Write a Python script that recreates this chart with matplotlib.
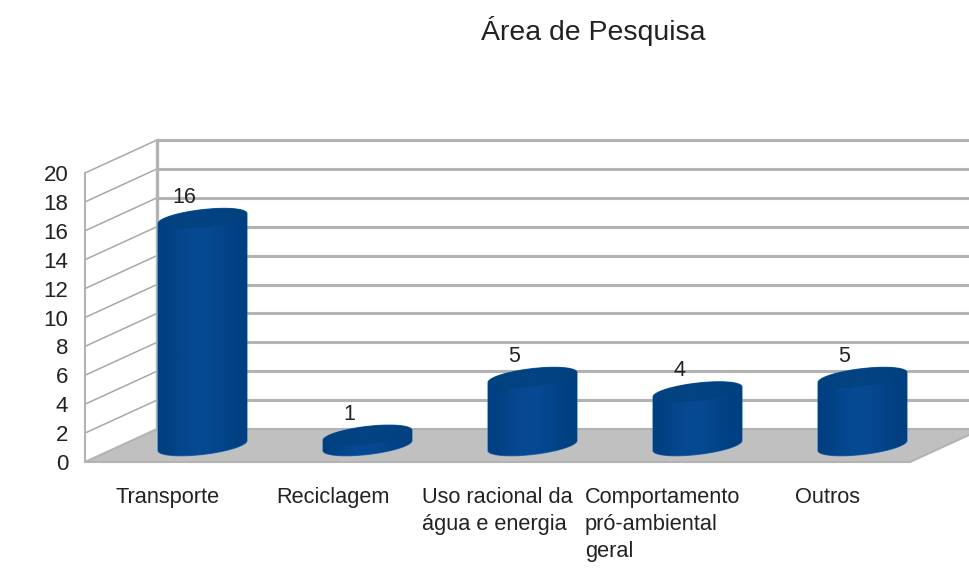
import numpy as np
import matplotlib
matplotlib.use("Agg")
import matplotlib.pyplot as plt
from matplotlib.patches import Polygon

categorias = ["Transporte", "Reciclagem", "Uso racional da\nágua e energia",
              "Comportamento\npró-ambiental\ngeral", "Outros"]
valores = [16, 1, 5, 4, 5]
ticks_y = list(range(0, 21, 2))

plt.rcParams["font.family"] = ["Liberation Sans", "DejaVu Sans"]
TEXTO = "#222222"
CINZA = "#b3b3b3"
PISO = "#c0c0c0"

W, H = 970, 571
fig = plt.figure(figsize=(W / 100, H / 100), dpi=100)
# plano frontal do grafico: x 85..910 px, y 462..173 px
ax = fig.add_axes([85 / W, 1 - 462 / H, 825 / W, 289 / H])
ax.set_xlim(0, 5)
ax.set_ylim(0, 20)
for s in ax.spines.values():
    s.set_visible(False)

# profundidade do 3D em unidades dos eixos
DX = 72 / 165
DY = 33 / 14.45


def p3(x, y, d):
    return x + d * DX, y + d * DY


# piso
cantos = [p3(0, 0, 0), p3(5, 0, 0), p3(5, 0, 1), p3(0, 0, 1)]
ax.add_patch(Polygon(cantos, closed=True, fc=PISO, ec=CINZA, lw=1.5, clip_on=False, zorder=1))

# grades na parede do fundo e na parede lateral
for t in ticks_y:
    x0, y0 = p3(0, t, 1)
    x1, y1 = p3(5, t, 1)
    if t > 0:
        ax.plot([x0, x1], [y0, y1], color=CINZA, lw=2.2, clip_on=False, zorder=1, solid_capstyle="butt")
    xa, ya = p3(0, t, 0)
    if t > 0:
        ax.plot([xa, x0], [ya, y0], color="#a8a8a8", lw=1.1, clip_on=False, zorder=1)
ax.plot(*zip(p3(0, 0, 0), p3(0, 20, 0)), color=CINZA, lw=1.5, clip_on=False, zorder=1)
ax.plot(*zip(p3(0, 0, 1), p3(0, 20, 1)), color=CINZA, lw=2.4, clip_on=False, zorder=1)

# cilindros
A = 44.5 / 165    # semi-eixo horizontal
B = 9.0 / 14.45   # semi-eixo vertical
INCL = 5.0 / 14.45  # inclinacao da elipse
TOPO = -0.3       # o topo fica um pouco abaixo do valor no desenho original
degrade = np.array([[0.0, 0.25, 0.62, 0.85, 1.0, 0.9, 0.72, 0.45, 0.15, 0.0]])
cmap = matplotlib.colors.LinearSegmentedColormap.from_list("azul", ["#003f80", "#074a94"])


def elipse(cx, cy, t):
    return cx + A * np.cos(t), cy + B * np.sin(t) + INCL * np.cos(t)


for i, v in enumerate(valores):
    cx, cy0 = p3(i + 0.5, 0, 0.5)
    cx -= 1 / 165
    cy1 = cy0 + v + TOPO
    t_baixo = np.linspace(np.pi, 2 * np.pi, 60)
    t_cima = np.linspace(0, np.pi, 60)
    xb, yb = elipse(cx, cy0, t_baixo)
    xc, yc = elipse(cx, cy1, t_cima)
    corpo = Polygon(np.column_stack([np.r_[xb, xc], np.r_[yb, yc]]), closed=True,
                    fc="none", ec="#2f74bd", lw=0.8, clip_on=False, zorder=3)
    ax.add_patch(corpo)
    im = ax.imshow(degrade, extent=(cx - A, cx + A, cy0 - 2, cy1 + 2), aspect="auto",
                   cmap=cmap, interpolation="bicubic", zorder=3, clip_on=True)
    im.set_clip_path(corpo)
    t = np.linspace(0, 2 * np.pi, 120)
    xt, yt = elipse(cx, cy1, t)
    ax.add_patch(Polygon(np.column_stack([xt, yt]), closed=True, fc="#03427f", ec="none",
                         alpha=0.85, clip_on=False, zorder=4))
    ax.annotate(str(v), xy=(i + 0.5, v), xytext=(17, 28), textcoords="offset pixels",
                ha="center", va="baseline", fontsize=15.5, color=TEXTO, zorder=5)
ax.set_xlim(0, 5)
ax.set_ylim(0, 20)

ax.set_xticks(np.arange(5) + 0.5)
ax.set_xticklabels(categorias, fontsize=15.7, color=TEXTO, multialignment="left", linespacing=1.37)
ax.set_yticks(ticks_y)
ax.set_yticklabels([str(t) for t in ticks_y], fontsize=16, color=TEXTO)
ax.tick_params(axis="x", length=0, pad=18)
ax.tick_params(axis="y", length=0, pad=12)

fig.text(593 / W, 1 - 31 / H, "Área de Pesquisa", ha="center", va="center", fontsize=20.4, color=TEXTO)

fig.savefig("out.png", dpi=100)
